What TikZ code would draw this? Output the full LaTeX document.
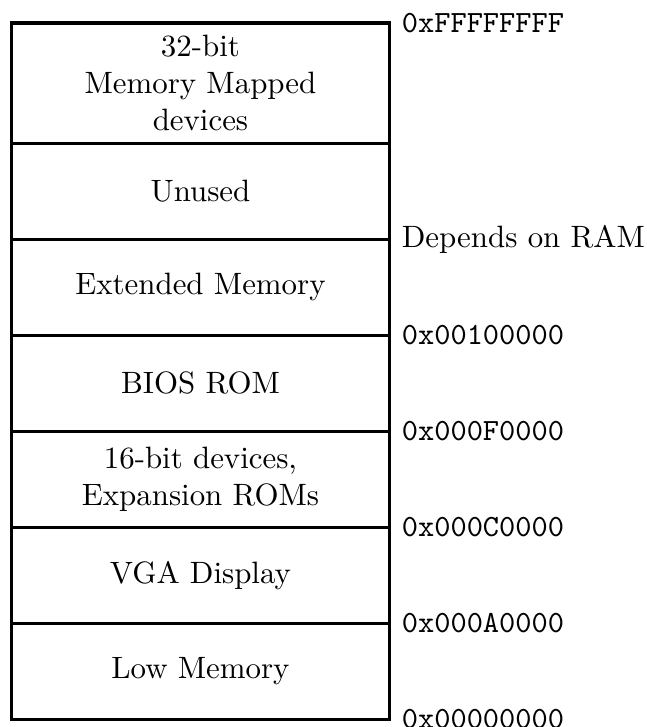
\documentclass[tikz,border=0pt]{standalone}
\usepackage{tikz}
\usetikzlibrary{positioning}

\begin{document}
\begin{tikzpicture}[node distance=0pt,
                    region/.style={draw,line width=1pt,outer sep=0pt,minimum width=4.3cm,minimum height=1.092cm,text width=4cm,align=center},
                    addr/.style={anchor=west,font=\ttfamily}]
  \useasboundingbox (-0.131,0.262) rectangle (7.23,-8.01);
  \node[region,anchor=north west,minimum height=1.369cm] (mmio) at (0,0) {32-bit\\Memory Mapped\\devices};
  \node[region,below=of mmio] (unused) {Unused};
  \node[region,below=of unused] (ext) {Extended Memory};
  \node[region,below=of ext] (bios) {BIOS ROM};
  \node[region,below=of bios] (isa) {16-bit devices,\\Expansion ROMs};
  \node[region,below=of isa] (vga) {VGA Display};
  \node[region,below=of vga] (low) {Low Memory};

  \node[addr] (a4g) at ([xshift=0.5pt]mmio.north east) {0xFFFFFFFF};
  \node[addr,font=\normalfont] (ram) at ([xshift=0.5pt]unused.south east) {Depends on RAM};
  \node[addr] (a1m) at ([xshift=0.5pt]ext.south east) {0x00100000};
  \node[addr] (af0) at ([xshift=0.5pt]bios.south east) {0x000F0000};
  \node[addr] (ac0) at ([xshift=0.5pt]isa.south east) {0x000C0000};
  \node[addr] (aa0) at ([xshift=0.5pt]vga.south east) {0x000A0000};
  \node[addr] (a0) at ([xshift=0.5pt]low.south east) {0x00000000};
\end{tikzpicture}
\end{document}
